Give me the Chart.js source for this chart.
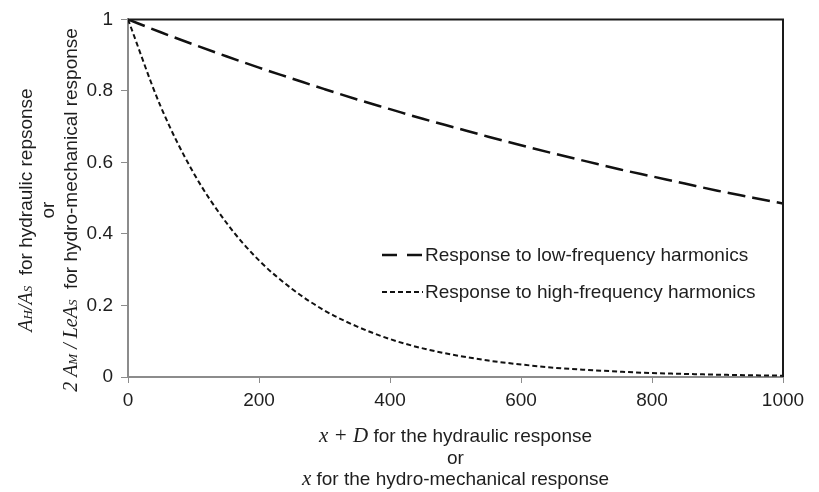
<!DOCTYPE html>
<html>
<head>
<meta charset="utf-8">
<script src="https://cdn.jsdelivr.net/npm/chart.js@4"></script>
<style>
  body { margin: 0; background: #fff; }
  canvas { display: block; }
</style>
</head>
<body>
<canvas id="responseChart" width="819" height="492"></canvas>
<script>
// distances (x + D, or x)
const distances = [0, 50, 100, 150, 200, 250, 300, 350, 400, 450, 500, 550, 600, 650, 700, 750, 800, 850, 900, 950, 1000];
// response to low-frequency harmonics
const lowFreq = [1, 0.964, 0.930, 0.897, 0.865, 0.835, 0.805, 0.776, 0.749, 0.722, 0.697, 0.672, 0.648, 0.625, 0.603, 0.581, 0.561, 0.541, 0.521, 0.503, 0.485];
// response to high-frequency harmonics
const highFreq = [1, 0.756, 0.571, 0.432, 0.326, 0.247, 0.186, 0.141, 0.106, 0.080, 0.061, 0.046, 0.035, 0.026, 0.020, 0.015, 0.011, 0.0086, 0.0065, 0.0049, 0.0037];
const seriesNames = ['Response to low-frequency harmonics', 'Response to high-frequency harmonics'];
const xTicks = [0, 200, 400, 600, 800, 1000];
const yTicks = [0, 0.2, 0.4, 0.6, 0.8, 1];

const textColor = '#1e1e1e';
const sans = "'Liberation Sans', Arial, sans-serif";
const serif = "'Liberation Serif', 'Times New Roman', serif";
const F = sz => sz + 'px ' + sans;
const M = sz => 'italic ' + sz + 'px ' + serif;

// draws a line made of pieces in different fonts, centred on (cx, cy)
function drawRich(ctx, segs, cx, cy, rot) {
    ctx.save();
    ctx.translate(cx, cy);
    ctx.rotate(rot);
    ctx.textBaseline = 'alphabetic';
    ctx.textAlign = 'left';
    ctx.fillStyle = textColor;
    let total = 0;
    segs.forEach(s => { ctx.font = s.f; total += ctx.measureText(s.t).width; });
    let x = -total / 2;
    segs.forEach(s => {
        ctx.font = s.f;
        ctx.fillText(s.t, x, 7);
        x += ctx.measureText(s.t).width;
    });
    ctx.restore();
}

const extras = {
    id: 'extras',
    afterDraw(chart) {
        const ctx = chart.ctx;
        const a = chart.chartArea;

        // black top and right frame
        ctx.save();
        ctx.strokeStyle = '#1a1a1a';
        ctx.lineWidth = 2;
        ctx.beginPath();
        ctx.moveTo(a.left, a.top);
        ctx.lineTo(a.right, a.top);
        ctx.lineTo(a.right, a.bottom);
        ctx.stroke();
        ctx.restore();

        // legend inside the plot
        const legendRows = [
            { y: 255, dash: [15, 10], w: 2.5 },
            { y: 292, dash: [5, 3], w: 2 }
        ];
        legendRows.forEach((r, i) => {
            ctx.save();
            ctx.strokeStyle = '#111';
            ctx.lineWidth = r.w;
            ctx.setLineDash(r.dash);
            ctx.beginPath();
            ctx.moveTo(382, r.y);
            ctx.lineTo(423, r.y);
            ctx.stroke();
            ctx.restore();
            ctx.save();
            ctx.font = F(19);
            ctx.fillStyle = textColor;
            ctx.textBaseline = 'middle';
            ctx.fillText(seriesNames[i], 425, r.y + 1);
            ctx.restore();
        });

        // y axis title (three lines, rotated)
        const up = -Math.PI / 2;
        drawRich(ctx, [
            { t: 'A', f: M(20) }, { t: 'H', f: M(13) }, { t: '/', f: M(20) },
            { t: 'A', f: M(20) }, { t: 'S', f: M(13) },
            { t: '  for hydraulic repsonse', f: F(19) }
        ], 25, 210, up);
        drawRich(ctx, [{ t: 'or', f: F(19) }], 47, 210, up);
        drawRich(ctx, [
            { t: '2 A', f: M(20) }, { t: 'M', f: M(13) }, { t: ' / ', f: M(20) },
            { t: 'LeA', f: M(20) }, { t: 'S', f: M(13) },
            { t: '  for hydro-mechanical response', f: F(19) }
        ], 70, 210, up);

        // x axis title (three lines)
        const cx = (a.left + a.right) / 2;
        drawRich(ctx, [
            { t: 'x + D', f: M(21) }, { t: ' for the hydraulic response', f: F(19) }
        ], cx, 435, 0);
        drawRich(ctx, [{ t: 'or', f: F(19) }], cx, 457, 0);
        drawRich(ctx, [
            { t: 'x', f: M(21) }, { t: ' for the hydro-mechanical response', f: F(19) }
        ], cx, 478, 0);
    }
};

new Chart(document.getElementById('responseChart').getContext('2d'), {
    type: 'line',
    data: {
        datasets: [{
            label: seriesNames[0],
            data: distances.map((d, i) => ({ x: d, y: lowFreq[i] })),
            borderColor: '#111',
            borderWidth: 2.5,
            borderDash: [18, 7],
            pointRadius: 0,
            cubicInterpolationMode: 'monotone',
            fill: false,
        }, {
            label: seriesNames[1],
            data: distances.map((d, i) => ({ x: d, y: highFreq[i] })),
            borderColor: '#111',
            borderWidth: 2,
            borderDash: [5, 3],
            pointRadius: 0,
            cubicInterpolationMode: 'monotone',
            fill: false,
        }],
    },
    options: {
        responsive: false,
        animation: false,
        layout: { padding: { top: 18, right: 36, left: 0, bottom: 0 } },
        plugins: {
            legend: { display: false },
            tooltip: { enabled: false },
        },
        scales: {
            x: {
                type: 'linear',
                min: 0,
                max: 1000,
                afterBuildTicks: s => { s.ticks = xTicks.map(v => ({ value: v })); },
                afterFit: s => { s.height = 115; },
                grid: { drawOnChartArea: false, tickLength: 6, color: '#8c8c8c', lineWidth: 1 },
                border: { color: '#8c8c8c', width: 2 },
                ticks: {
                    font: { family: sans, size: 19 }, color: textColor, padding: 6, maxRotation: 0,
                    callback: v => String(v)
                },
            },
            y: {
                min: 0,
                max: 1,
                afterBuildTicks: s => { s.ticks = yTicks.map(v => ({ value: v })); },
                afterFit: s => { s.width = 128; },
                grid: { drawOnChartArea: false, tickLength: 7, color: '#8c8c8c', lineWidth: 1 },
                border: { color: '#8c8c8c', width: 2 },
                ticks: {
                    font: { family: sans, size: 19 }, color: textColor, padding: 8,
                    callback: v => String(v)
                },
            }
        }
    },
    plugins: [extras]
});
</script>
</body>
</html>
